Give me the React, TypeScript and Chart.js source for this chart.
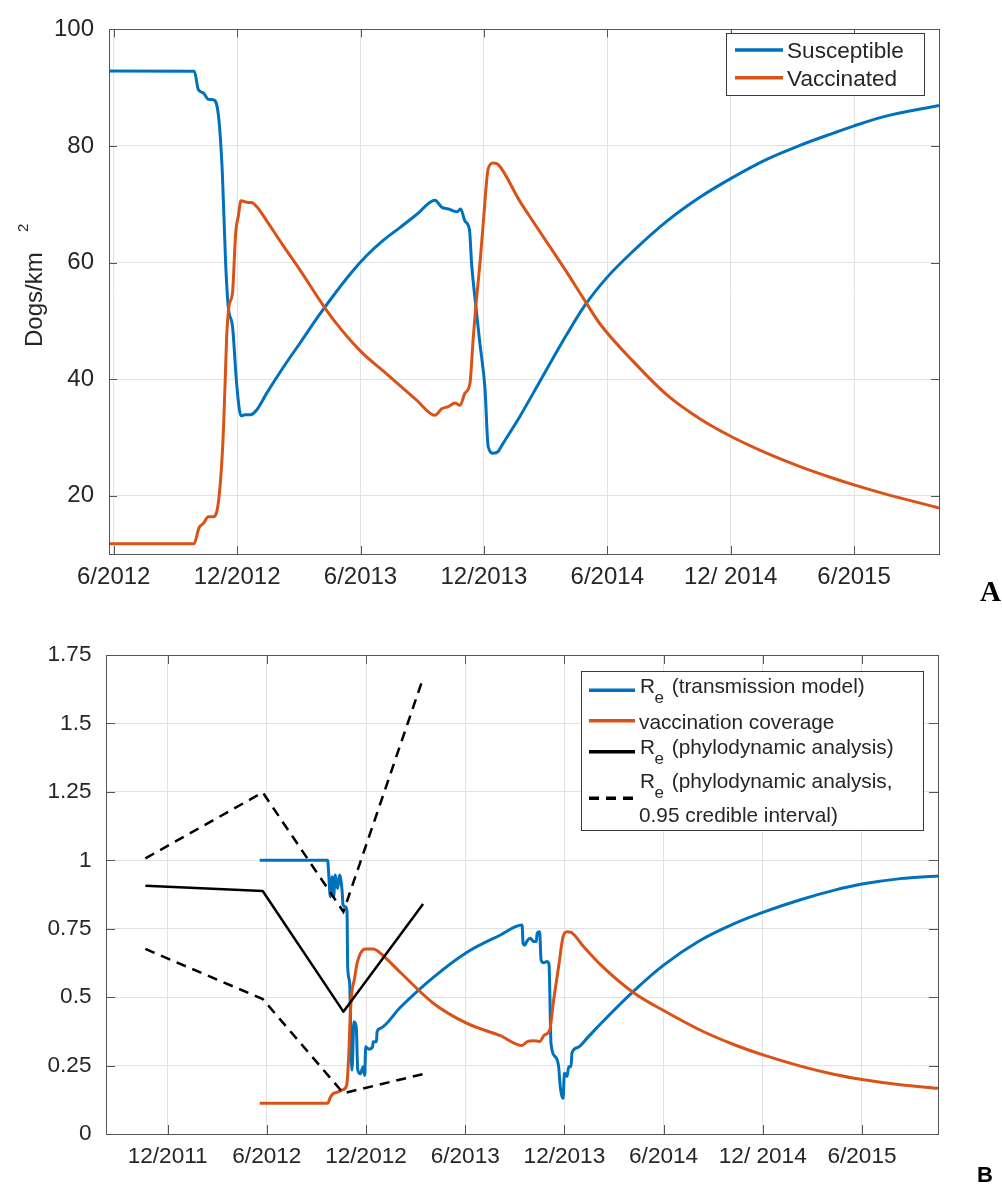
import React, { useEffect, useRef } from 'react';
import { Chart, registerables } from 'chart.js';

Chart.register(...registerables);

const BLUE = '#0072BD';
const ORANGE = '#D95319';
const BLACK = '#000000';
const FONT = "'Liberation Sans', Arial, Helvetica, sans-serif";
const TXT = '#262626';
const AXIS = '#555555';
const GRID = '#e2e2e2';

// x values are months counted from Jan 2011 (11 = 12/2011, 17 = 6/2012, ...)

// ---------- Panel A ----------
const topTickValues = [17, 23, 29, 35, 41, 47, 53];
const topTickLabels = ['6/2012', '12/2012', '6/2013', '12/2013', '6/2014', '12/ 2014', '6/2015'];
const topYTicks = [20, 40, 60, 80, 100];

const susX = [16.77, 20.92, 21.11, 21.36, 21.6, 21.84, 22.09, 22.28, 22.44, 22.57, 22.78, 22.98, 23.19, 23.38, 23.66, 23.95, 24.44, 25.24, 26.06, 27.03, 28.49, 29.3, 30.1, 30.92, 31.73, 32.62, 32.95, 33.27, 33.68, 33.87, 34.08, 34.3, 34.4, 34.56, 34.81, 35.05, 35.21, 35.45, 35.7, 35.8, 36.75, 37.4, 39.02, 39.9, 41.0, 42.27, 43.9, 45.5, 47.0, 48.75, 50.37, 51.99, 53.0, 54.41, 57.13];
const susY = [92.85, 92.8, 89.7, 89.1, 88.0, 87.95, 85.3, 75.5, 60.0, 52.4, 48.9, 39.1, 33.7, 33.9, 33.9, 34.7, 37.6, 42.0, 46.2, 51.2, 58.0, 61.2, 63.8, 66.0, 68.25, 70.7, 69.5, 69.2, 68.7, 69.2, 67.1, 65.6, 59.9, 54.1, 46.0, 38.5, 28.4, 27.3, 27.6, 28.2, 33.6, 37.6, 47.6, 52.6, 57.5, 62.0, 67.1, 71.2, 74.4, 77.7, 80.1, 82.2, 83.45, 85.0, 86.95];

const vacX = [16.77, 20.9, 21.15, 21.36, 21.6, 21.84, 22.09, 22.3, 22.41, 22.49, 22.6, 22.78, 22.93, 23.06, 23.19, 23.54, 23.7, 23.95, 24.44, 25.24, 26.06, 27.1, 27.68, 29.0, 30.1, 30.92, 31.73, 32.62, 32.95, 33.27, 33.6, 33.84, 34.08, 34.32, 34.48, 34.61, 34.81, 34.97, 35.21, 35.45, 35.7, 36.75, 37.4, 39.02, 39.83, 40.64, 42.27, 43.9, 45.5, 47.0, 48.75, 50.37, 51.99, 53.0, 54.41, 57.13];
const vacY = [11.75, 11.75, 14.5, 15.25, 16.4, 16.4, 18.9, 28.6, 38.7, 47.1, 52.4, 55.0, 65.1, 68.0, 70.6, 70.3, 70.3, 69.6, 67.15, 62.9, 58.7, 53.1, 50.2, 44.8, 41.4, 38.9, 36.4, 33.8, 34.9, 35.3, 35.9, 35.5, 37.6, 39.25, 47.0, 52.6, 59.9, 66.8, 76.1, 77.1, 76.8, 70.5, 67.0, 58.4, 53.9, 49.5, 43.0, 37.3, 33.2, 30.2, 27.3, 25.0, 23.0, 21.85, 20.4, 17.9];

// ---------- Panel B ----------
const botTickValues = [11, 17, 23, 29, 35, 41, 47, 53];
const botTickLabels = ['12/2011', '6/2012', '12/2012', '6/2013', '12/2013', '6/2014', '12/ 2014', '6/2015'];
const botYTicks = [0, 0.25, 0.5, 0.75, 1, 1.25, 1.5, 1.75];
const botYLabels = ['0', '0.25', '0.5', '0.75', '1', '1.25', '1.5', '1.75'];

const reX = [16.57, 20.68, 20.74, 20.84, 20.95, 21.04, 21.14, 21.28, 21.4, 21.55, 21.61, 21.75, 21.85, 21.89, 22.01, 22.09, 22.15, 22.27, 22.41, 22.5, 22.66, 22.82, 22.92, 22.98, 23.16, 23.4, 23.43, 23.63, 23.67, 23.87, 25.08, 27.09, 29.11, 31.13, 32.44, 32.5, 32.6, 32.74, 32.94, 33.14, 33.3, 33.35, 33.5, 33.59, 33.75, 33.95, 34.07, 34.19, 34.45, 34.65, 34.76, 34.92, 35.0, 35.16, 35.26, 35.4, 35.46, 35.8, 36.4, 37.18, 39.19, 41.0, 43.2, 45.24, 47.0, 49.28, 51.29, 53.0, 55.32, 57.6];
const reY = [1.0, 1.0, 0.952, 0.867, 0.94, 0.867, 0.946, 0.897, 0.946, 0.89, 0.837, 0.83, 0.812, 0.611, 0.55, 0.343, 0.234, 0.41, 0.39, 0.234, 0.22, 0.246, 0.214, 0.319, 0.31, 0.319, 0.337, 0.337, 0.374, 0.386, 0.463, 0.573, 0.664, 0.727, 0.764, 0.697, 0.69, 0.705, 0.715, 0.703, 0.703, 0.733, 0.739, 0.636, 0.626, 0.63, 0.62, 0.331, 0.282, 0.246, 0.167, 0.13, 0.222, 0.21, 0.246, 0.246, 0.297, 0.316, 0.352, 0.402, 0.522, 0.617, 0.707, 0.768, 0.81, 0.856, 0.89, 0.913, 0.933, 0.943];

const covX = [16.57, 20.68, 20.84, 21.04, 21.28, 21.61, 21.83, 21.95, 22.05, 22.16, 22.29, 22.46, 22.66, 22.96, 23.46, 23.76, 25.08, 27.09, 29.11, 31.13, 32.44, 32.74, 33.14, 33.5, 33.8, 34.11, 34.35, 34.65, 34.92, 35.16, 35.4, 36.17, 37.18, 39.19, 41.0, 43.2, 45.24, 47.02, 49.28, 51.29, 53.0, 55.32, 57.6];
const covY = [0.112, 0.112, 0.134, 0.149, 0.153, 0.162, 0.179, 0.282, 0.441, 0.526, 0.563, 0.624, 0.66, 0.676, 0.676, 0.666, 0.59, 0.477, 0.404, 0.359, 0.323, 0.337, 0.341, 0.338, 0.362, 0.38, 0.49, 0.611, 0.721, 0.739, 0.737, 0.684, 0.619, 0.516, 0.451, 0.38, 0.327, 0.289, 0.248, 0.218, 0.199, 0.18, 0.167];

const phyloX = [9.65, 16.75, 21.63, 26.45];
const phyloMedian = [0.907, 0.888, 0.447, 0.84];
const phyloUpper = [1.007, 1.248, 0.812, 1.665];
const phyloLower = [0.676, 0.493, 0.149, 0.219];

const zip = (xs: number[], ys: number[]) => xs.map((x, i) => ({ x, y: ys[i] }));

// ---------- plugins ----------
const matlabAxes = {
  id: 'matlabAxes',
  afterDatasetsDraw(chart: any, _a: any, opts: any) {
    const { ctx, chartArea: a, scales } = chart;
    const L = opts.tickLen;
    ctx.save();
    ctx.strokeStyle = opts.color;
    ctx.lineWidth = 1;
    ctx.setLineDash([]);
    ctx.beginPath();
    scales.x.ticks.forEach((t: any) => {
      const px = Math.round(scales.x.getPixelForValue(t.value)) + 0.5;
      ctx.moveTo(px, a.bottom);
      ctx.lineTo(px, a.bottom - L);
      ctx.moveTo(px, a.top);
      ctx.lineTo(px, a.top + L);
    });
    scales.y.ticks.forEach((t: any) => {
      const py = Math.round(scales.y.getPixelForValue(t.value)) + 0.5;
      ctx.moveTo(a.left, py);
      ctx.lineTo(a.left + L, py);
      ctx.moveTo(a.right, py);
      ctx.lineTo(a.right - L, py);
    });
    ctx.stroke();
    ctx.strokeRect(Math.round(a.left) + 0.5, Math.round(a.top) + 0.5, Math.round(a.right - a.left), Math.round(a.bottom - a.top));
    ctx.restore();
  },
};

const boxLegend = {
  id: 'boxLegend',
  afterDraw(chart: any, _a: any, opts: any) {
    const ctx = chart.ctx;
    const [bx, by, bw, bh] = opts.box;
    ctx.save();
    ctx.fillStyle = '#ffffff';
    ctx.fillRect(bx, by, bw, bh);
    ctx.strokeStyle = opts.borderColor;
    ctx.lineWidth = 1;
    ctx.strokeRect(bx + 0.5, by + 0.5, bw, bh);
    for (const it of opts.items) {
      const ds = chart.data.datasets[it.ds];
      ctx.beginPath();
      ctx.setLineDash(ds.borderDash || []);
      ctx.strokeStyle = ds.borderColor;
      ctx.lineWidth = opts.lineWidth;
      ctx.lineCap = 'butt';
      ctx.moveTo(it.x1, it.y);
      ctx.lineTo(it.x2, it.y);
      ctx.stroke();
      ctx.setLineDash([]);
      ctx.fillStyle = opts.color;
      ctx.textAlign = 'left';
      ctx.textBaseline = 'alphabetic';
      for (const tx of it.texts) {
        ctx.font = `${tx.size}px ${FONT}`;
        ctx.fillText(tx.t, tx.x, tx.y);
      }
    }
    ctx.restore();
  },
};

const yTitle = {
  id: 'yTitle',
  afterDraw(chart: any, _a: any, opts: any) {
    if (!opts || !opts.parts) return;
    const ctx = chart.ctx;
    ctx.save();
    ctx.fillStyle = opts.color;
    ctx.textAlign = 'left';
    ctx.textBaseline = 'alphabetic';
    for (const p of opts.parts) {
      ctx.save();
      ctx.translate(p.x, p.y);
      ctx.rotate(-Math.PI / 2);
      ctx.font = `${p.size}px ${FONT}`;
      ctx.fillText(p.t, 0, 0);
      ctx.restore();
    }
    ctx.restore();
  },
};

function lineDs(label: string, data: any[], color: string, width: number, order: number, smooth: boolean, dash?: number[]) {
  return {
    label,
    data,
    borderColor: color,
    backgroundColor: color,
    borderWidth: width,
    borderDash: dash,
    pointRadius: 0,
    pointHoverRadius: 0,
    tension: smooth ? 0.4 : 0,
    cubicInterpolationMode: smooth ? 'monotone' : 'default',
    fill: false,
    order,
    borderJoinStyle: dash ? 'miter' : 'round',
    borderCapStyle: 'butt',
  };
}

function xScale(min: number, max: number, vals: number[], labels: string[], size: number, height: number) {
  return {
    type: 'linear',
    min,
    max,
    afterBuildTicks: (s: any) => {
      s.ticks = vals.map((v) => ({ value: v }));
    },
    afterFit: (s: any) => {
      s.height = height;
    },
    grid: { color: GRID, lineWidth: 1, drawTicks: false },
    border: { display: false },
    ticks: {
      autoSkip: false,
      maxRotation: 0,
      minRotation: 0,
      padding: 9,
      color: TXT,
      font: { family: FONT, size },
      callback: (v: any) => {
        const i = vals.indexOf(Number(v));
        return i >= 0 ? labels[i] : '';
      },
    },
  };
}

function yScale(min: number, max: number, vals: number[], labels: string[], size: number, width: number, pad: number) {
  return {
    type: 'linear',
    min,
    max,
    afterBuildTicks: (s: any) => {
      s.ticks = vals.map((v) => ({ value: v }));
    },
    afterFit: (s: any) => {
      s.width = width;
    },
    grid: { color: GRID, lineWidth: 1, drawTicks: false },
    border: { display: false },
    ticks: {
      autoSkip: false,
      padding: pad,
      color: TXT,
      font: { family: FONT, size },
      callback: (v: any) => {
        const i = vals.indexOf(Number(v));
        return i >= 0 ? labels[i] : '';
      },
    },
  };
}

function topConfig(): any {
  return {
    type: 'line',
    data: {
      datasets: [
        lineDs('Susceptible', zip(susX, susY), BLUE, 3, 2, true),
        lineDs('Vaccinated', zip(vacX, vacY), ORANGE, 3, 1, true),
      ],
    },
    plugins: [matlabAxes, boxLegend, yTitle],
    options: {
      responsive: false,
      animation: false,
      devicePixelRatio: 1,
      events: [],
      layout: { padding: { left: 0, top: 17, right: 63, bottom: 6 } },
      plugins: {
        legend: { display: false },
        tooltip: { enabled: false },
        matlabAxes: { color: AXIS, tickLen: 8 },
        boxLegend: {
          box: [726, 33, 198, 62],
          borderColor: '#3a3a3a',
          color: TXT,
          lineWidth: 3.5,
          items: [
            { ds: 0, x1: 735, x2: 783, y: 50, texts: [{ t: 'Susceptible', x: 787, y: 58, size: 22.6 }] },
            { ds: 1, x1: 735, x2: 783, y: 77.7, texts: [{ t: 'Vaccinated', x: 787, y: 85.7, size: 22.6 }] },
          ],
        },
        yTitle: {
          color: TXT,
          parts: [
            { t: 'Dogs/km', x: 41.5, y: 347, size: 24 },
            { t: '2', x: 28, y: 232, size: 15 },
          ],
        },
      },
      scales: {
        x: xScale(16.77, 57.13, topTickValues, topTickLabels, 24, 50),
        y: yScale(10, 100, topYTicks, topYTicks.map(String), 24, 109, 15),
      },
    },
  };
}

function botConfig(): any {
  return {
    type: 'line',
    data: {
      datasets: [
        lineDs('R_e (transmission model)', zip(reX, reY), BLUE, 3, 5, true),
        lineDs('vaccination coverage', zip(covX, covY), ORANGE, 3, 4, true),
        lineDs('R_e (phylodynamic analysis)', zip(phyloX, phyloMedian), BLACK, 2.5, 3, false),
        lineDs('R_e (phylodynamic analysis, 0.95 credible interval)', zip(phyloX, phyloUpper), BLACK, 2.5, 2, false, [10, 7]),
        lineDs('', zip(phyloX, phyloLower), BLACK, 2.5, 1, false, [10, 7]),
      ],
    },
    plugins: [matlabAxes, boxLegend],
    options: {
      responsive: false,
      animation: false,
      devicePixelRatio: 1,
      events: [],
      layout: { padding: { left: 0, top: 45, right: 64, bottom: 6 } },
      plugins: {
        legend: { display: false },
        tooltip: { enabled: false },
        matlabAxes: { color: AXIS, tickLen: 9 },
        boxLegend: {
          box: [581, 61, 342, 159],
          borderColor: '#3a3a3a',
          color: TXT,
          lineWidth: 3.5,
          items: [
            {
              ds: 0, x1: 589, x2: 635, y: 80.3,
              texts: [
                { t: 'R', x: 640, y: 83.3, size: 20.8 },
                { t: 'e', x: 654.5, y: 92.7, size: 17 },
                { t: '(transmission model)', x: 671.7, y: 83.3, size: 20.8 },
              ],
            },
            {
              ds: 1, x1: 589, x2: 635, y: 110.7,
              texts: [{ t: 'vaccination coverage', x: 639, y: 118.5, size: 20.8 }],
            },
            {
              ds: 2, x1: 589, x2: 635, y: 141.7,
              texts: [
                { t: 'R', x: 640, y: 144.3, size: 20.8 },
                { t: 'e', x: 654.5, y: 153.7, size: 17 },
                { t: '(phylodynamic analysis)', x: 671.7, y: 144.3, size: 20.8 },
              ],
            },
            {
              ds: 3, x1: 589, x2: 635, y: 188.3,
              texts: [
                { t: 'R', x: 640, y: 178.3, size: 20.8 },
                { t: 'e', x: 654.5, y: 187.7, size: 17 },
                { t: '(phylodynamic analysis,', x: 671.7, y: 178.3, size: 20.8 },
                { t: '0.95 credible interval)', x: 639, y: 211.7, size: 20.8 },
              ],
            },
          ],
        },
      },
      scales: {
        x: xScale(7.27, 57.6, botTickValues, botTickLabels, 22.6, 44),
        y: yScale(0, 1.75, botYTicks, botYLabels, 22.6, 106, 14.5),
      },
    },
  };
}

export default function App() {
  const topRef = useRef<HTMLCanvasElement>(null);
  const botRef = useRef<HTMLCanvasElement>(null);
  useEffect(() => {
    const c1 = new Chart(topRef.current as HTMLCanvasElement, topConfig());
    const c2 = new Chart(botRef.current as HTMLCanvasElement, botConfig());
    return () => {
      c1.destroy();
      c2.destroy();
    };
  }, []);
  return (
    <div style={{ position: 'absolute', left: 0, top: 0, width: 1002, height: 1184, background: '#ffffff', overflow: 'hidden' }}>
      <canvas ref={topRef} width={1002} height={610} style={{ position: 'absolute', left: 0, top: 0, display: 'block' }} />
      <canvas ref={botRef} width={1002} height={574} style={{ position: 'absolute', left: 0, top: 610, display: 'block' }} />
      <div style={{ position: 'absolute', left: 980, top: 577, font: "bold 29px 'Liberation Serif', 'Times New Roman', serif", lineHeight: '29px', color: '#000' }}>A</div>
      <div style={{ position: 'absolute', left: 977, top: 1164, font: "bold 22px 'Liberation Sans', Arial, sans-serif", lineHeight: '22px', color: '#000' }}>B</div>
    </div>
  );
}
